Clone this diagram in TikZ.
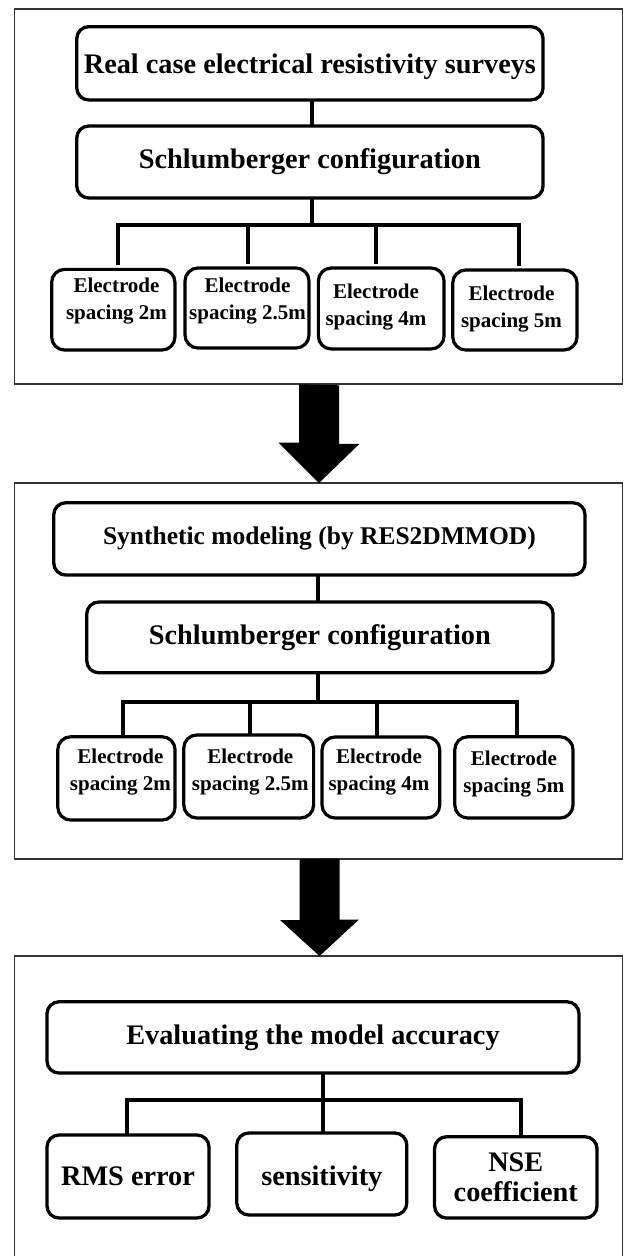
\documentclass[tikz,border=0pt]{standalone}
\usepackage{fontspec}
\setmainfont{Liberation Serif}
\begin{document}
\begin{tikzpicture}[x=1pt,y=-1pt,
  panel/.style={draw=black!80, line width=1.5pt, rectangle, inner sep=0pt, outer sep=0pt},
  rbox/.style={draw=black, line width=3.3pt, rounded corners=12pt, inner sep=0pt, outer sep=0pt,
               align=center, font=\bfseries\fontsize{28.3}{30}\selectfont},
  ebox/.style={draw=black, line width=3.2pt, rounded corners=13pt, inner sep=0pt, outer sep=0pt},
  etext/.style={inner sep=0pt, align=center, font=\bfseries\fontsize{21}{27}\selectfont},
  conn/.style={draw=black, line width=4pt},
  bigarrow/.style={fill=black},
]
\useasboundingbox (0,0) rectangle (624,1256);
\clip (0,0) rectangle (624,1256);

% ---------- panel 1: field surveys ----------
\node[panel, minimum width=607.8, minimum height=375] (pa) at (318.6,196.7) {};
\node[rbox, minimum width=466.3, minimum height=73.3, text depth=0pt] (r1) at (309.9,63.3) {Real case electrical resistivity surveys};
\node[rbox, minimum width=466.3, minimum height=72] (s1) at (309.9,162) {Schlumberger configuration};
\coordinate (j1) at (312.4,225);

\node[ebox, minimum width=123.3, minimum height=80.7] (e11) at (113.3,309.7) {};
\node[ebox, minimum width=124,   minimum height=80]   (e12) at (247,308) {};
\node[ebox, minimum width=125.7, minimum height=81]   (e13) at (381.2,308.5) {};
\node[ebox, minimum width=124.3, minimum height=80]   (e14) at (514.9,310) {};
\node[etext] (e11t) at (116.5,300.7) {Electrode\\spacing 2m};
\node[etext] (e12t) at (247.5,300.7) {Electrode\\spacing 2.5m};
\node[etext] (e13t) at (376,307.5)   {Electrode\\spacing 4m};
\node[etext] (e14t) at (511.5,308.6) {Electrode\\spacing 5m};

\draw[conn] (r1.south -| j1) -- (s1.north -| j1);
\draw[conn] (s1.south -| j1) -- (j1);
\draw[conn, shorten <=4pt] ([xshift=4.4pt]e11.north) |- (j1);
\draw[conn, shorten <=4pt] ([xshift=1pt]e12.north) |- (j1);
\draw[conn, shorten <=4pt] ([xshift=-5.2pt]e13.north) |- (j1);
\draw[conn, shorten <=4pt] ([xshift=4.4pt]e14.north) |- (j1);

% ---------- panel 2: synthetic modelling ----------
\node[panel, minimum width=607.8, minimum height=376] (pb) at (318.6,671) {};
\node[rbox, minimum width=531.3, minimum height=72.3, font=\bfseries\fontsize{25.5}{28}\selectfont] (syn) at (319.4,538.9) {Synthetic modeling (by RES2DMMOD)};
\node[rbox, minimum width=466.3, minimum height=70.7] (s2) at (319.9,637.4) {Schlumberger configuration};
\coordinate (j2) at (317.6,701.7);

\node[ebox, minimum width=117.3, minimum height=83.3] (e21) at (116.4,778.4) {};
\node[ebox, minimum width=129.8, minimum height=83]   (e22) at (248.7,776.5) {};
\node[ebox, minimum width=117.7, minimum height=81]   (e23) at (380.9,777.5) {};
\node[ebox, minimum width=118.2, minimum height=81.3] (e24) at (513.9,777.4) {};
\node[etext] (e21t) at (120.4,771.7) {Electrode\\spacing 2m};
\node[etext] (e22t) at (250.3,771.7) {Electrode\\spacing 2.5m};
\node[etext] (e23t) at (379,771.7)   {Electrode\\spacing 4m};
\node[etext] (e24t) at (513.9,773.7) {Electrode\\spacing 5m};

\draw[conn] (syn.south -| j2) -- (s2.north -| j2);
\draw[conn] (s2.south -| j2) -- (j2);
\draw[conn] ([xshift=6.2pt]e21.north) |- (j2);
\draw[conn] ([xshift=0.8pt]e22.north) |- (j2);
\draw[conn] ([xshift=-3.7pt]e23.north) |- (j2);
\draw[conn] ([xshift=3.4pt]e24.north) |- (j2);

% ---------- panel 3: accuracy assessment ----------
\node[panel, minimum width=607.8, minimum height=344] (pc) at (318.6,1128) {};
\node[rbox, minimum width=532, minimum height=71.3] (ev) at (313,1037.4) {Evaluating the model accuracy};
\coordinate (j3) at (323,1100);

\node[rbox, minimum width=162,   minimum height=83]   (rms) at (128,1176.5)   {RMS error};
\node[rbox, minimum width=170,   minimum height=82, text height=23pt, text depth=0pt] (sen) at (321.8,1174) {sensitivity};
\node[rbox, minimum width=162.5, minimum height=81.3] (nse) at (515.8,1177.4) {NSE\\coefficient};

\draw[conn] (ev.south -| j3) -- (j3);
\draw[conn] ([xshift=-1.5pt]rms.north) |- (j3);
\draw[conn] ([xshift=1.2pt]sen.north) |- (j3);
\draw[conn] ([xshift=5.5pt]nse.north) |- (j3);

% ---------- block arrows between the panels ----------
\coordinate (a1) at (319,0);
\coordinate (a2) at (319.5,0);
\fill[bigarrow] (pa.south -| a1) ++(-20,0) -- ++(0,58.5) -- ++(-20.5,0)
  -- (pb.north -| a1) -- ++(40.5,-39.2) -- ++(-20.5,0) -- ++(0,-58.5) -- cycle;
\fill[bigarrow] (pb.south -| a2) ++(-20,0) -- ++(0,61) -- ++(-19.5,0)
  -- (pc.north -| a2) -- ++(39.5,-36.5) -- ++(-19.5,0) -- ++(0,-61) -- cycle;
\end{tikzpicture}
\end{document}
